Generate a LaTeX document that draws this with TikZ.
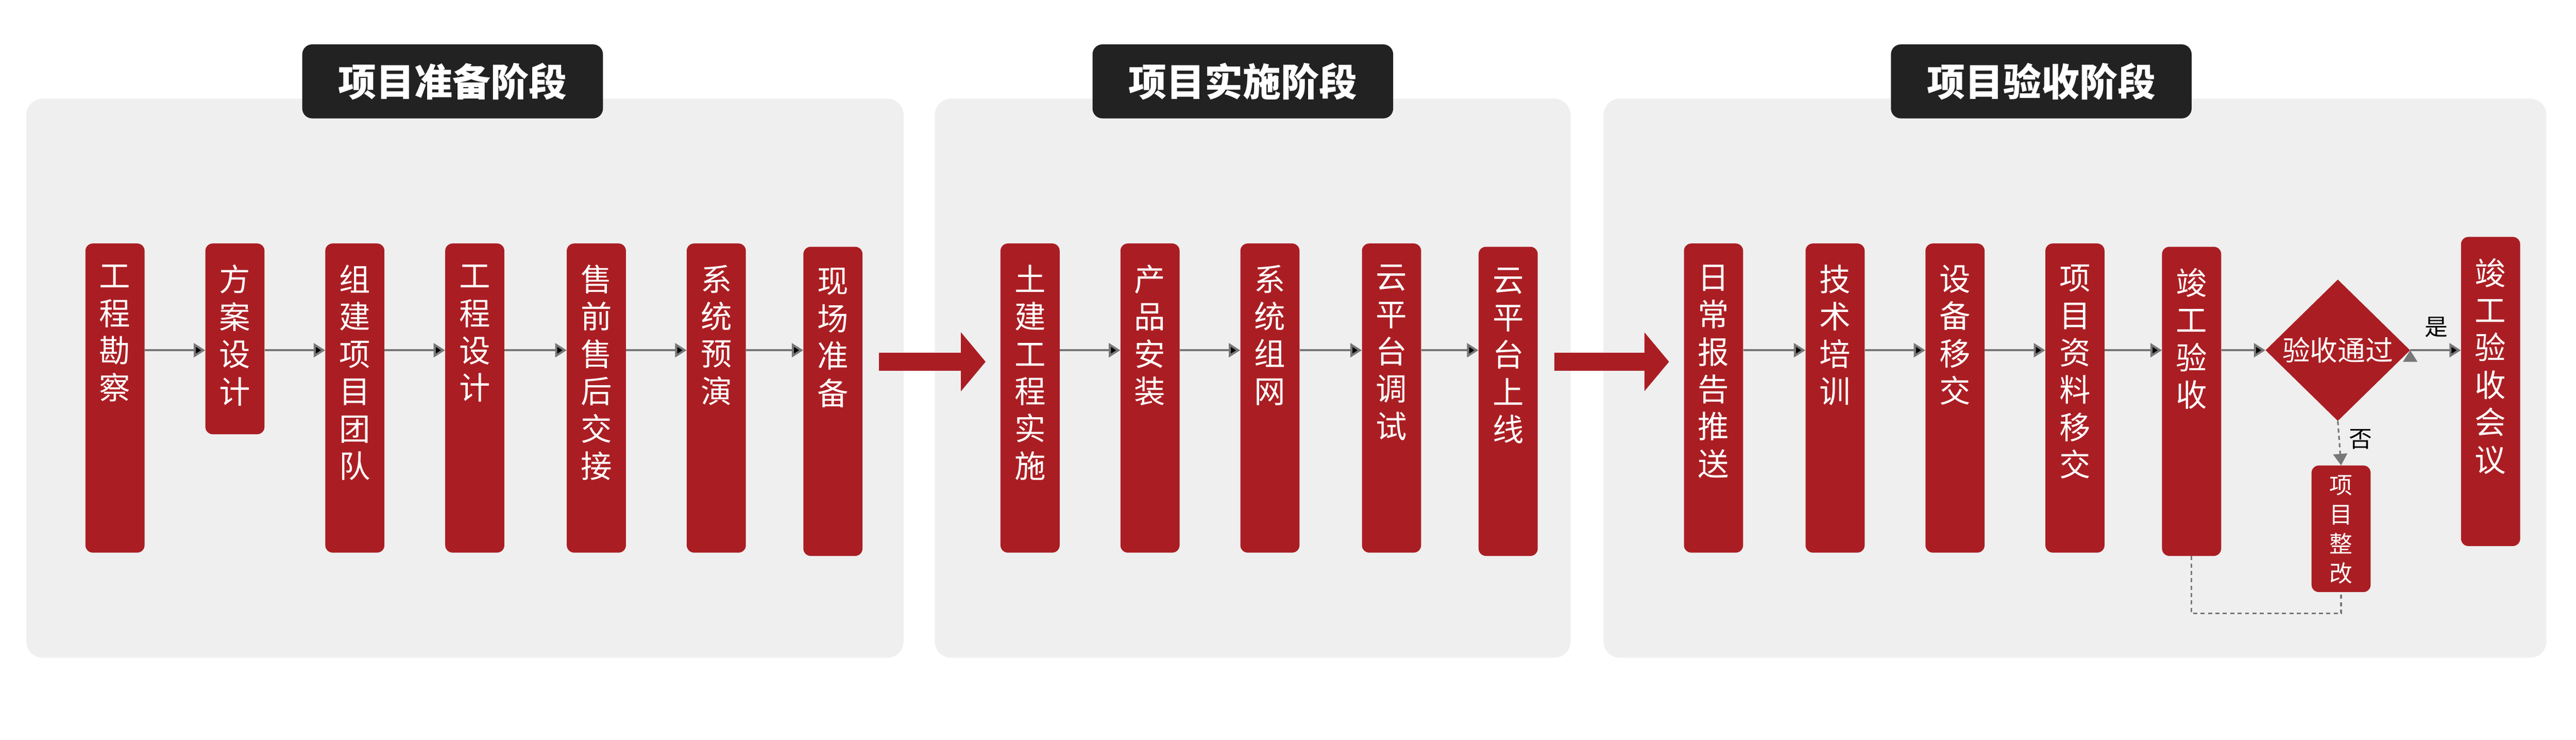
\documentclass[tikz,border=0pt]{standalone}
\usepackage{fontspec}
\setmainfont{Noto Sans CJK SC}
\usetikzlibrary{arrows.meta,positioning,shapes.geometric}

\definecolor{stagered}{HTML}{AA1E23}
\definecolor{panelgray}{HTML}{EFEFEF}
\definecolor{titleblack}{HTML}{222222}
\definecolor{flowgray}{HTML}{777777}

% vertical column of characters, top aligned
\newcommand{\vcol}[3][13mm]{\parbox[c][#2][t]{36mm}{\centering\vspace*{#1}#3}}

\tikzset{
  panel/.style={fill=panelgray,rounded corners=1cm},
  phase/.style={fill=titleblack,text=white,rounded corners=0.6cm,minimum width=18.3cm,
    minimum height=4.5cm,font=\fontsize{66}{70}\selectfont\bfseries},
  stagebox/.style={fill=stagered,text=white,rounded corners=0.45cm,inner sep=0pt,anchor=north,
    font=\fontsize{54}{64.6}\selectfont},
  decide/.style={diamond,fill=stagered,minimum width=8.8cm,minimum height=8.6cm,inner sep=0pt},
  flow/.style={draw=flowgray,line width=0.13cm,-{Triangle[length=0.7cm,width=0.85cm]}},
  loopline/.style={draw=flowgray,line width=0.1cm,dash pattern=on 0.25cm off 0.2cm},
  bigflow/.style={draw=stagered,line width=1.1cm,-{Triangle[length=1.5cm,width=3.5cm]},
    shorten <=1cm,shorten >=0.9cm},
  answer/.style={font=\fontsize{40}{44}\selectfont}
}

\begin{document}
\begin{tikzpicture}[x=1mm,y=-1mm]
\useasboundingbox (0,0) rectangle (1568,450);

% panels and phase titles
\fill[panel] (16,60) rectangle (550,400);
\fill[panel] (569,60) rectangle (956,400);
\fill[panel] (976,60) rectangle (1550,400);
\node[phase] (P1) at (275.5,49.5) {项目准备阶段};
\node[phase] (P2) at (756.5,49.5) {项目实施阶段};
\node[phase] (P3) at (1242.5,49.5) {项目验收阶段};

\coordinate (y) at (0,213);
\coordinate (ya) at (0,220);

% preparation
\node[stagebox] (b1) at (70,148) {\vcol{188mm}{工\\程\\勘\\察}};
\node[stagebox] (b2) at (143,148) {\vcol{116mm}{方\\案\\设\\计}};
\node[stagebox] (b3) at (216,148) {\vcol{188mm}{组\\建\\项\\目\\团\\队}};
\node[stagebox] (b4) at (289,148) {\vcol{188mm}{工\\程\\设\\计}};
\node[stagebox] (b5) at (363,148) {\vcol{188mm}{售\\前\\售\\后\\交\\接}};
\node[stagebox] (b6) at (436,148) {\vcol{188mm}{系\\统\\预\\演}};
\node[stagebox] (b7) at (507,150) {\vcol{188mm}{现\\场\\准\\备}};

% implementation
\node[stagebox] (c1) at (627,148) {\vcol{188mm}{土\\建\\工\\程\\实\\施}};
\node[stagebox] (c2) at (700,148) {\vcol{188mm}{产\\品\\安\\装}};
\node[stagebox] (c3) at (773,148) {\vcol{188mm}{系\\统\\组\\网}};
\node[stagebox] (c4) at (847,148) {\vcol{188mm}{云\\平\\台\\调\\试}};
\node[stagebox] (c5) at (918,150) {\vcol{188mm}{云\\平\\台\\上\\线}};

% acceptance
\node[stagebox] (d1) at (1043,148) {\vcol{188mm}{日\\常\\报\\告\\推\\送}};
\node[stagebox] (d2) at (1117,148) {\vcol{188mm}{技\\术\\培\\训}};
\node[stagebox] (d3) at (1190,148) {\vcol{188mm}{设\\备\\移\\交}};
\node[stagebox] (d4) at (1263,148) {\vcol{188mm}{项\\目\\资\\料\\移\\交}};
\node[stagebox] (d5) at (1334,150) {\vcol{188mm}{竣\\工\\验\\收}};
\node[decide] (gate) at (1423,213) {};
\node[text=white,font=\fontsize{48}{50}\selectfont] (gatetext) at (gate) {验收通过};
\node[stagebox] (d6) at (1516,144) {\vcol{188mm}{竣\\工\\验\\收\\会\\议}};
\node[stagebox,font=\fontsize{40}{51}\selectfont] (fix) at (1425,283)
  {\vcol[6mm]{77mm}{项\\目\\整\\改}};
\node[answer] (yes) at (1483,199) {是};
\node[answer] (no) at (1437,267) {否};

% connectors
\path[flow] (b1.east|-y) edge (b2.west|-y)
  (b2.east|-y) edge (b3.west|-y)
  (b3.east|-y) edge (b4.west|-y)
  (b4.east|-y) edge (b5.west|-y)
  (b5.east|-y) edge (b6.west|-y)
  (b6.east|-y) edge (b7.west|-y)
  (c1.east|-y) edge (c2.west|-y)
  (c2.east|-y) edge (c3.west|-y)
  (c3.east|-y) edge (c4.west|-y)
  (c4.east|-y) edge (c5.west|-y)
  (d1.east|-y) edge (d2.west|-y)
  (d2.east|-y) edge (d3.west|-y)
  (d3.east|-y) edge (d4.west|-y)
  (d4.east|-y) edge (d5.west|-y)
  (d5.east|-y) edge (gate.west)
  (gate.east) edge (d6.west|-y);
\draw[bigflow] (b7.east|-ya) -- (c1.west|-ya);
\draw[bigflow] (c5.east|-ya) -- (d1.west|-ya);
\draw[loopline,-{Triangle[length=0.7cm,width=0.85cm]}] (gate.south) -- (fix.north);
\draw[loopline] (d5.south) -- ++(0,35) -| (fix.south);
\end{tikzpicture}
\end{document}
